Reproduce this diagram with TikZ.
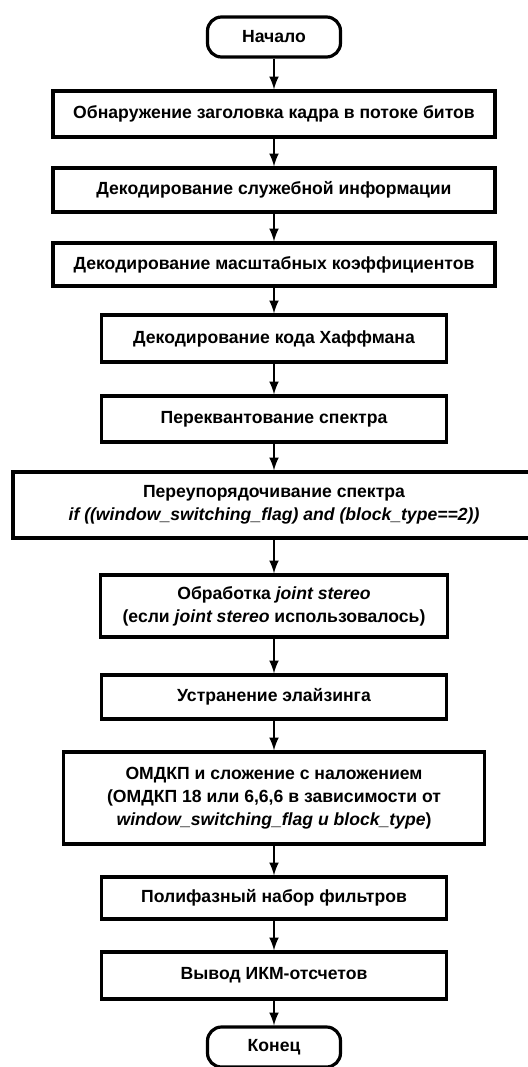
\documentclass[tikz,border=0pt]{standalone}
\usepackage{fontspec}
\setmainfont{Liberation Sans}
\usetikzlibrary{arrows}

\tikzset{
  block/.style={draw,line width=1.6pt,align=center,inner sep=2pt,
    font=\fontsize{8.8}{11.5}\selectfont\bfseries},
  term/.style={block,rounded corners=7pt,minimum width=66.5pt,minimum height=20pt},
  link/.style={->,line width=1.2pt}
}

\begin{document}
\begin{tikzpicture}[>=latex,x=5pt,y=-5pt]
\useasboundingbox (0,0) rectangle (52.8,106.7);

\node[term] (start) at (27.4,3.7) {Начало};

\node[block,minimum width=221pt,minimum height=23pt] (head) at (27.4,11.4) {Обнаружение заголовка кадра в потоке битов};
\node[block,minimum width=221pt,minimum height=22pt] (side) at (27.4,19.0) {Декодирование служебной информации};
\node[block,minimum width=221pt,minimum height=21.5pt] (scf) at (27.4,26.45) {Декодирование масштабных коэффициентов};
\node[block,minimum width=172.5pt,minimum height=23.5pt] (huff) at (27.4,33.85) {Декодирование кода Хаффмана};
\node[block,minimum width=172.5pt,minimum height=23pt] (requ) at (27.4,41.9) {Переквантование спектра};
\node[block,minimum width=261pt,minimum height=33pt] (reord) at (27.4,50.5) {Переупорядочивание спектра\\
  \textit{if ((window\_switching\_flag) and (block\_type==2))}};
\node[block,minimum width=173.5pt,minimum height=31pt] (stereo) at (27.4,60.6) {Обработка \textit{joint stereo}\\
  (если \textit{joint stereo} использовалось)};
\node[block,minimum width=172.5pt,minimum height=22pt] (alias) at (27.4,69.7) {Устранение элайзинга};
\node[block,minimum width=210.5pt,minimum height=46pt] (imdct) at (27.4,79.8) {ОМДКП и сложение с наложением\\
  (ОМДКП 18 или 6,6,6 в зависимости от\\
  \textit{window\_switching\_flag и block\_type})};
\node[block,minimum width=172.5pt,minimum height=21pt] (poly) at (27.4,89.8) {Полифазный набор фильтров};
\node[block,minimum width=172.5pt,minimum height=23.5pt] (pcm) at (27.4,97.55) {Вывод ИКМ-отсчетов};

\node[term] (stop) at (27.4,104.7) {Конец};

\foreach \a/\b in {start/head,head/side,side/scf,scf/huff,huff/requ,requ/reord,
  reord/stereo,stereo/alias,alias/imdct,imdct/poly,poly/pcm,pcm/stop}
  \draw[link] (\a) -- (\b);

\end{tikzpicture}
\end{document}
